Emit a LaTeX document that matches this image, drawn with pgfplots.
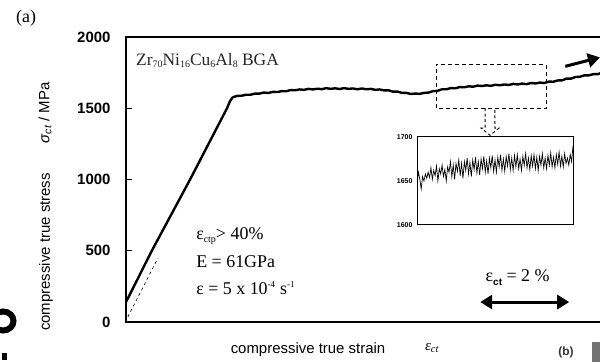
\documentclass[border=0pt]{standalone}
\usepackage{fontspec}
\setmainfont{Liberation Serif}
\setsansfont{Liberation Sans}
\usepackage{pgfplots}
\pgfplotsset{compat=1.18}
\usetikzlibrary{arrows.meta}
\newcommand\sub[1]{\raisebox{-0.25ex}{\fontsize{10}{10}\selectfont #1}}
\begin{document}
\begin{tikzpicture}
\begin{axis}[at={(126bp,40bp)}, anchor=south west, scale only axis,
  width=484bp, height=285bp, xmin=0, xmax=10.876, ymin=0, ymax=2000,
  ytick={0,500,1000,1500,2000}, xtick=\empty, ytick pos=left,
  tick align=inside, major tick length=6bp,
  tick style={line width=1.2bp, black},
  axis line style={line width=1.5bp},
  yticklabel style={font=\sffamily\bfseries\fontsize{15}{15}\selectfont, xshift=-12bp},
  /pgf/number format/assume math mode=true, /pgf/number format/1000 sep={},
  clip=false]
\addplot[black, line width=2.4bp, line join=round] coordinates {
(0,140) (0.58,500) (1.44,1000) (2.27,1500) (2.33,1545) (2.37,1565) (2.40,1577)
(2.5,1587) (2.6,1588) (2.7,1595) (2.8,1595) (2.9,1603) (3.0,1603) (3.1,1610)
(3.2,1607) (3.3,1615) (3.4,1614) (3.5,1620) (3.6,1619) (3.7,1628) (3.8,1626)
(3.9,1632) (4.0,1629) (4.1,1636) (4.2,1632) (4.3,1637) (4.4,1634) (4.5,1641)
(4.6,1636) (4.7,1640) (4.8,1635) (4.9,1641) (5.0,1636) (5.1,1639) (5.2,1633)
(5.3,1639) (5.4,1633) (5.5,1636) (5.6,1629) (5.7,1632) (5.8,1625) (5.9,1626)
(6.0,1616) (6.1,1617) (6.2,1608) (6.3,1608) (6.4,1600) (6.5,1603) (6.6,1601)
(6.7,1608) (6.8,1610) (6.9,1620) (7.0,1622) (7.1,1633) (7.2,1633) (7.3,1642)
(7.4,1640) (7.5,1649) (7.6,1647) (7.7,1654) (7.8,1651) (7.9,1659) (8.0,1656)
(8.1,1661) (8.2,1657) (8.3,1665) (8.4,1661) (8.5,1667) (8.6,1663) (8.7,1671)
(8.8,1667) (8.9,1673) (9.0,1669) (9.1,1677) (9.2,1674) (9.3,1680) (9.4,1677)
(9.5,1687) (9.6,1686) (9.7,1695) (9.8,1696) (9.9,1708) (10.0,1708) (10.1,1719)
(10.2,1721) (10.3,1731) (10.4,1731) (10.5,1739) (10.6,1739) (10.7,1750)
(10.8,1749) (10.9,1755)};
\addplot[black, dashed, line width=0.6bp] coordinates {(0.04,35) (0.72,450)};
\draw[line width=0.9bp, dash pattern=on 4bp off 3bp] (axis cs:6.97,1500) rectangle (axis cs:9.44,1808);
\draw[line width=0.9bp, dash pattern=on 3bp off 2.5bp] (axis cs:8.07,1500) -- (axis cs:8.07,1360) -- (axis cs:7.98,1360) -- (axis cs:8.18,1310) -- (axis cs:8.38,1360) -- (axis cs:8.29,1360) -- (axis cs:8.29,1500);
\draw[-{Triangle[length=12bp,width=14bp]}, line width=3bp] (axis cs:9.87,1794) -- (axis cs:10.65,1857);
\draw[{Triangle[length=12bp,width=14bp]}-{Triangle[length=12bp,width=14bp]}, line width=3bp] (axis cs:7.96,140) -- (axis cs:9.96,140);
\node[anchor=west, font=\fontsize{17.5}{17.5}\selectfont, text=black!85] at (axis cs:0.15,1836) {Zr\sub{70}Ni\sub{16}Cu\sub{6}Al\sub{8} BGA};
\node[anchor=west, font=\fontsize{18}{18}\selectfont] at (axis cs:1.50,603) {ε\sub{ctp}> 40\%};
\node[anchor=west, font=\fontsize{18}{18}\selectfont] at (axis cs:1.50,420) {E = 61GPa};
\node[anchor=west, font=\fontsize{18}{18}\selectfont] at (axis cs:1.50,238) {ε = 5 x 10\textsuperscript{\fontsize{9}{9}\selectfont -4} s\textsuperscript{\fontsize{9}{9}\selectfont -1}};
\node[font=\fontsize{18}{18}\selectfont] at (axis cs:8.80,310) {ε\raisebox{-0.45ex}{\sffamily\bfseries\fontsize{10}{10}\selectfont ct} = 2 \%};
\end{axis}
\begin{axis}[at={(417bp,137bp)}, anchor=south west, scale only axis,
  width=156bp, height=88bp, xmin=0, xmax=112, ymin=1600, ymax=1700,
  ytick={1600,1650,1700}, xtick=\empty, major tick length=0pt, ytick pos=left,
  axis line style={line width=1bp},
  yticklabel style={font=\sffamily\bfseries\fontsize{7}{7}\selectfont, xshift=-1bp},
  /pgf/number format/assume math mode=true, /pgf/number format/1000 sep={}]
\addplot[black, line width=0.7bp] table {
x y
0 1648
1 1660
2 1652
3 1641
4 1655
5 1650
6 1658
7 1653
8 1660
9 1654
10 1665
11 1652
12 1662
13 1656
14 1667
15 1650
16 1664
17 1658
18 1668
19 1655
20 1663
21 1650
22 1666
23 1660
24 1672
25 1655
26 1668
27 1652
28 1670
29 1661
30 1674
31 1656
32 1670
33 1653
34 1672
35 1662
36 1676
37 1658
38 1671
39 1655
40 1674
41 1663
42 1677
43 1659
44 1672
45 1657
46 1675
47 1664
48 1678
49 1660
50 1673
51 1658
52 1676
53 1665
54 1679
55 1661
56 1674
57 1660
58 1677
59 1666
60 1680
61 1662
62 1675
63 1661
64 1678
65 1667
66 1681
67 1663
68 1676
69 1662
70 1679
71 1666
72 1680
73 1664
74 1675
75 1662
76 1678
77 1668
78 1681
79 1665
80 1676
81 1663
82 1679
83 1667
84 1680
85 1664
86 1677
87 1662
88 1678
89 1668
90 1681
91 1665
92 1676
93 1664
94 1679
95 1668
96 1682
97 1666
98 1677
99 1665
100 1680
101 1669
102 1683
103 1667
104 1678
105 1666
106 1681
107 1670
108 1676
109 1668
110 1680
111 1672
112 1690
};
\end{axis}
\node[rotate=90, font=\sffamily\fontsize{15}{15}\selectfont] at (46bp,110bp) {compressive true stress};
\node[rotate=90, font=\sffamily\fontsize{15}{15}\selectfont] at (45bp,249bp) {\textit{σ}\textsubscript{\itshape ct} / MPa};
\node[font=\sffamily\fontsize{15}{15}\selectfont] at (308bp,12bp) {compressive true strain};
\node[font=\itshape\fontsize{15}{15}\selectfont] at (432bp,14bp) {ε\textsubscript{ct}};
\node[anchor=west, font=\fontsize{18}{18}\selectfont, inner sep=0pt] at (16bp,344bp) {(a)};
\node[font=\sffamily\bfseries\fontsize{12}{12}\selectfont, text=black!80] at (566bp,10bp) {(b)};
\draw[line width=6bp] (3bp,41bp) ellipse (10.5bp and 9.5bp);
\fill (2bp,2bp) rectangle (7bp,9bp);
\fill[black!55] (592bp,0bp) rectangle (600bp,20bp);
\pgfresetboundingbox
\useasboundingbox (0,0) rectangle (600bp,362bp);
\end{tikzpicture}
\end{document}
